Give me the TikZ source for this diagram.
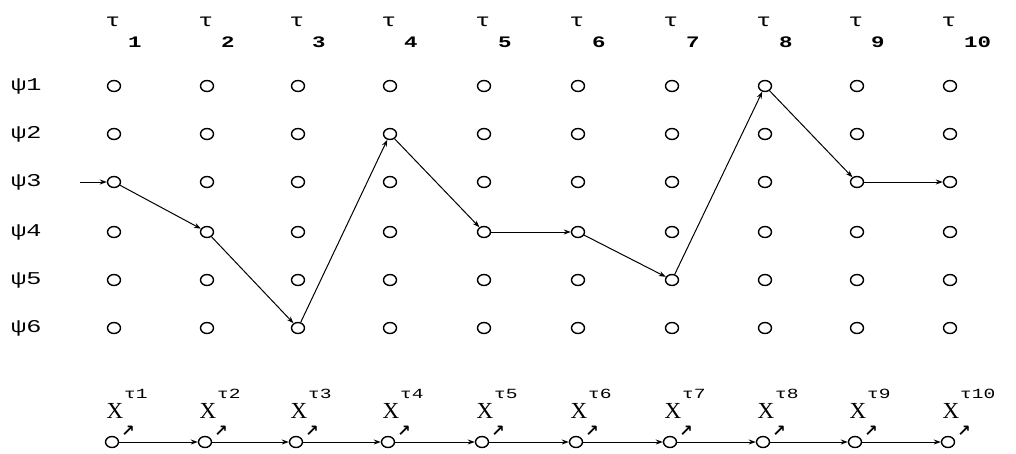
\documentclass[tikz,border=0pt]{standalone}
\usepackage{fontspec}
\setmainfont{Liberation Mono}
\newfontfamily\wide[FakeStretch=1.4]{Liberation Mono}
\newfontfamily\symfont{DejaVu Sans}
\newfontfamily\xfont{Liberation Serif}
\usetikzlibrary{arrows.meta,shapes.geometric}
\begin{document}
\begin{tikzpicture}[x=1pt,y=-1pt,
  dot/.style={ellipse,draw,line width=1.4pt,inner sep=0pt,minimum width=13pt,minimum height=11pt},
  tlab/.style={font=\wide\fontsize{18}{18}\selectfont,inner sep=0pt},
  tsub/.style={font=\wide\bfseries\fontsize{16}{16}\selectfont,inner sep=0pt,anchor=west},
  plab/.style={font=\wide\fontsize{18}{18}\selectfont,inner sep=0pt,anchor=west},
  xlab/.style={font=\xfont\fontsize{23}{23}\selectfont,inner sep=0pt},
  xsup/.style={font=\wide\fontsize{14}{14}\selectfont,inner sep=0pt,anchor=west},
  ne/.style={font=\symfont\bfseries\fontsize{16}{16}\selectfont,inner sep=0pt},
  conn/.style={line width=1pt,-{Stealth[length=7pt,width=5pt]}}]
\useasboundingbox (0,0) rectangle (1016,453);
\fill[white] (0,0) rectangle (1016,453);
% row labels
\foreach \j/\y in {1/86,2/134,3/182,4/232,5/280,6/328}
  \node[plab] (p\j) at (11,\y) {ψ\j};
% grid, column labels, bottom row
\foreach \i/\x in {1/114,2/207,3/298,4/390,5/484,6/578,7/672,8/765,9/857,10/950}{
  \node[tlab] (t\i) at (\x-1,22) {τ};
  \node[tsub] (s\i) at (\x+14,42) {\i};
  \foreach \j/\y in {1/86,2/134,3/182,4/232,5/280,6/328}
    \node[dot] (c-\i-\j) at (\x,\y) {};
  \node[dot] (b\i) at (\x-2,442) {};
  \node[xlab] (x\i) at (\x+1,411) {X};
  \node[xsup] (xs\i) at (\x+10,394) {τ\i};
  \node[ne] (n\i) at (\x+14,431) {↗};
}
% bottom chain
\foreach \i in {1,...,9}{
  \pgfmathtruncatemacro{\k}{\i+1}
  \draw[conn] (b\i) -- (b\k);
}
% path through the grid
\coordinate (start) at (80,182);
\draw[conn] (start) -- (c-1-3);
\draw[conn] (c-1-3) -- (c-2-4);
\draw[conn] (c-2-4) -- (c-3-6);
\draw[conn] (c-3-6) -- (c-4-2);
\draw[conn] (c-4-2) -- (c-5-4);
\draw[conn] (c-5-4) -- (c-6-4);
\draw[conn] (c-6-4) -- (c-7-5);
\draw[conn] (c-7-5) -- (c-8-1);
\draw[conn] (c-8-1) -- (c-9-3);
\draw[conn] (c-9-3) -- (c-10-3);
\end{tikzpicture}
\end{document}
